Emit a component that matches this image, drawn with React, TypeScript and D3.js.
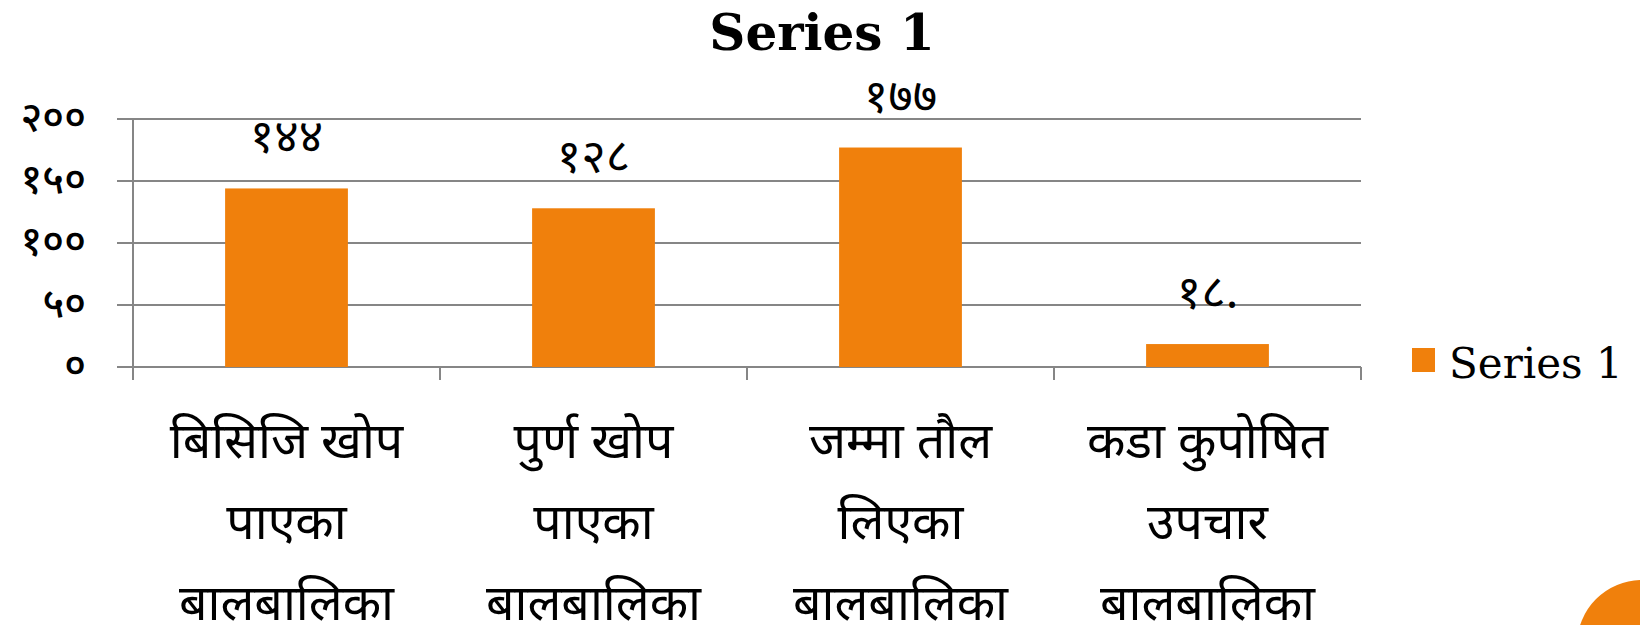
import { useRef, useEffect } from "react";
import * as d3 from "d3";

const categories = [
  ["बिसिजि खोप", "पाएका", "बालबालिका"],
  ["पुर्ण खोप", "पाएका", "बालबालिका"],
  ["जम्मा तौल", "लिएका", "बालबालिका"],
  ["कडा कुपोषित", "उपचार", "बालबालिका"],
];
const values = [144, 128, 177, 18.5];
const valueLabels = ["१४४", "१२८", "१७७", "१८."];
const yTicks = [0, 50, 100, 150, 200];
const yTickLabels = ["०", "५०", "१००", "१५०", "२००"];
const seriesName = "Series 1";

const ORANGE = "#F0800C";
const GRID = "#868686";
const DEVA = "'Noto Sans Devanagari', 'Noto Sans', sans-serif";
const SERIF = "'DejaVu Serif', serif";

export default function App() {
  const svgRef = useRef<SVGSVGElement>(null);

  useEffect(() => {
    const svg = d3.select(svgRef.current);
    svg.selectAll("*").remove();

    const W = 1640;
    const H = 625;
    const margin = { top: 119, left: 133, right: 279, bottom: 258 };
    const width = W - margin.left - margin.right;
    const height = H - margin.top - margin.bottom;

    svg.attr("width", W).attr("height", H);

    const x = d3
      .scaleBand<number>()
      .domain(d3.range(values.length))
      .range([0, width])
      .paddingInner(0.6)
      .paddingOuter(0.3);
    const y = d3.scaleLinear().domain([0, 200]).range([height, 0]);

    // title
    svg
      .append("text")
      .attr("x", 822)
      .attr("y", 50)
      .attr("text-anchor", "middle")
      .attr("font-family", SERIF)
      .attr("font-weight", "bold")
      .attr("font-size", "50px")
      .text(seriesName);

    const g = svg.append("g").attr("transform", `translate(${margin.left},${margin.top})`);

    // grid lines (extend left as tick marks)
    yTicks.forEach((t, i) => {
      g.append("line")
        .attr("x1", -16)
        .attr("x2", width)
        .attr("y1", y(t))
        .attr("y2", y(t))
        .attr("stroke", GRID)
        .attr("stroke-width", 2);
      g.append("text")
        .attr("x", -47)
        .attr("y", y(t))
        .attr("dy", "0.3em")
        .attr("text-anchor", "end")
        .attr("font-family", DEVA)
        .attr("font-size", "41px")
        .attr("font-weight", 500)
        .text(yTickLabels[i]);
    });

    // vertical axis
    g.append("line")
      .attr("x1", 0)
      .attr("x2", 0)
      .attr("y1", 0)
      .attr("y2", height + 13)
      .attr("stroke", GRID)
      .attr("stroke-width", 2);

    // category ticks
    const step = x.step();
    d3.range(values.length + 1).forEach((i) => {
      g.append("line")
        .attr("x1", i * step)
        .attr("x2", i * step)
        .attr("y1", height)
        .attr("y2", height + 13)
        .attr("stroke", GRID)
        .attr("stroke-width", 2);
    });

    // bars
    g.selectAll("rect.bar")
      .data(values)
      .join("rect")
      .attr("class", "bar")
      .attr("x", (_, i) => x(i)!)
      .attr("y", (d) => y(d))
      .attr("width", x.bandwidth())
      .attr("height", (d) => height - y(d))
      .attr("fill", ORANGE);

    // value labels
    g.selectAll("text.val")
      .data(values)
      .join("text")
      .attr("class", "val")
      .attr("x", (_, i) => x(i)! + x.bandwidth() / 2)
      .attr("y", (d) => y(d) - 36)
      .attr("text-anchor", "middle")
      .attr("font-family", DEVA)
      .attr("font-size", "47px")
      .text((_, i) => valueLabels[i]);

    // category labels
    categories.forEach((lines, i) => {
      const cx = x(i)! + x.bandwidth() / 2;
      lines.forEach((ln, j) => {
        g.append("text")
          .attr("x", cx)
          .attr("y", height + 91 + j * 81)
          .attr("text-anchor", "middle")
          .attr("font-family", DEVA)
          .attr("font-size", "50px")
          .text(ln);
      });
    });

    // legend
    const lg = svg.append("g").attr("transform", "translate(1412,348)");
    lg.append("rect").attr("width", 23).attr("height", 24).attr("fill", ORANGE);
    lg.append("text")
      .attr("x", 37)
      .attr("y", 30)
      .attr("font-family", SERIF)
      .attr("font-size", "42px")
      .text(seriesName);

    // decorative corner circle
    svg
      .append("circle")
      .attr("cx", 1642)
      .attr("cy", 645)
      .attr("r", 65)
      .attr("fill", ORANGE);
  }, []);

  return (
    <div style={{ position: "absolute", left: 0, top: 0, width: 1640, height: 625, overflow: "hidden", background: "#fff" }}>
      <svg ref={svgRef} />
    </div>
  );
}
